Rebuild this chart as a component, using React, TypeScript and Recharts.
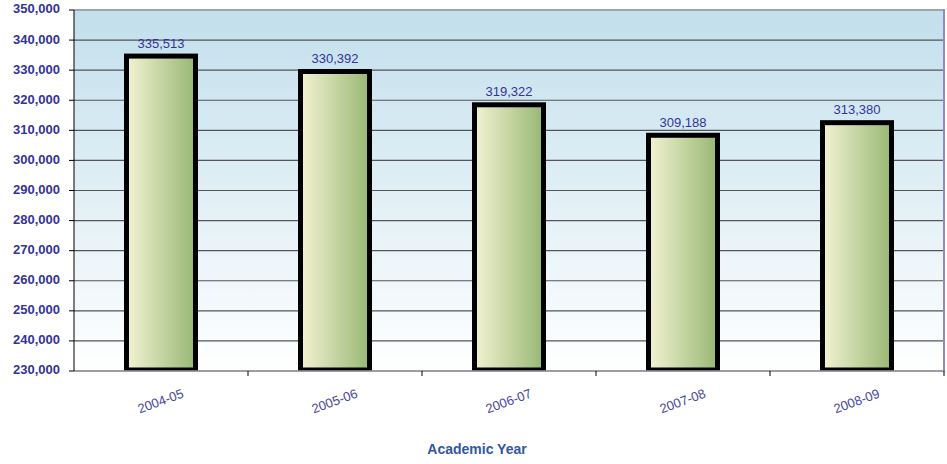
import React from 'react';
import { BarChart, Bar, XAxis, YAxis, CartesianGrid, LabelList, ReferenceLine } from 'recharts';

const years = ['2004-05', '2005-06', '2006-07', '2007-08', '2008-09'];
const enrollment = [335513, 330392, 319322, 309188, 313380];
const yTicks = [230000, 240000, 250000, 260000, 270000, 280000, 290000, 300000, 310000, 320000, 330000, 340000, 350000];

const data = years.map((year, i) => ({ year, value: enrollment[i] }));

const fmt = (v: number) => v.toLocaleString('en-US');
const FONT = 'Liberation Sans, Arial, sans-serif';

const XTick = (props: any) => {
  const { x, y, payload } = props;
  return (
    <g transform={`translate(${x},${y + 23}) rotate(-20)`}>
      <text textAnchor="middle" dominantBaseline="middle" fill="#4848a0" fontSize={13} fontFamily={FONT}>
        {payload.value}
      </text>
    </g>
  );
};

const YTick = (props: any) => {
  const { x, y, payload } = props;
  return (
    <text x={x - 7} y={y} textAnchor="end" dominantBaseline="middle" fill="#333399" fontSize={13} fontWeight="bold" fontFamily={FONT}>
      {fmt(payload.value)}
    </text>
  );
};

// stroke drawn inside the bar's outline
const InsetBar = (props: any) => {
  const { x, y, width, height } = props;
  return <rect x={x + 2.5} y={y + 2.5} width={width - 5} height={height - 3.5} fill="url(#barFill)" stroke="#000" strokeWidth={5} />;
};

export default function App() {
  return (
    <div style={{ position: 'absolute', left: 0, top: 0, width: 947, height: 464 }}>
      <BarChart width={947} height={464} data={data} margin={{ top: 10, right: 3, left: 0, bottom: 0 }}>
        <defs>
          <linearGradient id="bg" x1="0" y1="0" x2="0" y2="1">
            <stop offset="0%" stopColor="#c2dfec" />
            <stop offset="100%" stopColor="#ffffff" />
          </linearGradient>
          <linearGradient id="barFill" x1="0" y1="0" x2="1" y2="0">
            <stop offset="0%" stopColor="#f3f3d2" />
            <stop offset="100%" stopColor="#98b774" />
          </linearGradient>
        </defs>
        <CartesianGrid vertical={false} stroke="#555555" strokeWidth={1.2} fill="url(#bg)" fillOpacity={1} />
        <XAxis
          dataKey="year"
          height={93}
          interval={0}
          stroke="#999aa8"
          strokeWidth={1.5}
          tickLine={false}
          tick={<XTick />}
        />
        <YAxis
          width={74}
          domain={[230000, 350000]}
          ticks={yTicks}
          interval={0}
          allowDataOverflow
          stroke="#000000"
          tickSize={5}
          tick={<YTick />}
        />
        <ReferenceLine y={350000} stroke="#a4a4ae" strokeWidth={2} />
        <Bar dataKey="value" shape={<InsetBar />} barSize={74} isAnimationActive={false}>
          <LabelList dataKey="value" position="top" offset={6} formatter={(v: any) => fmt(Number(v))} fill="#333399" fontSize={13} fontFamily={FONT} />
        </Bar>
      </BarChart>
      <svg width={947} height={464} style={{ position: 'absolute', left: 0, top: 0, pointerEvents: 'none' }}>
        <line x1={944} x2={944} y1={9} y2={372} stroke="#8c8ac8" strokeWidth={2} />
        {[248, 422, 596, 770, 944].map((x) => (
          <line key={x} x1={x} x2={x} y1={371} y2={376} stroke="#000" strokeWidth={1} />
        ))}
        <text x={477} y={450} textAnchor="middle" dominantBaseline="middle" fill="#3355a8" fontSize={14} fontWeight="bold" fontFamily={FONT}>
          Academic Year
        </text>
      </svg>
    </div>
  );
}
